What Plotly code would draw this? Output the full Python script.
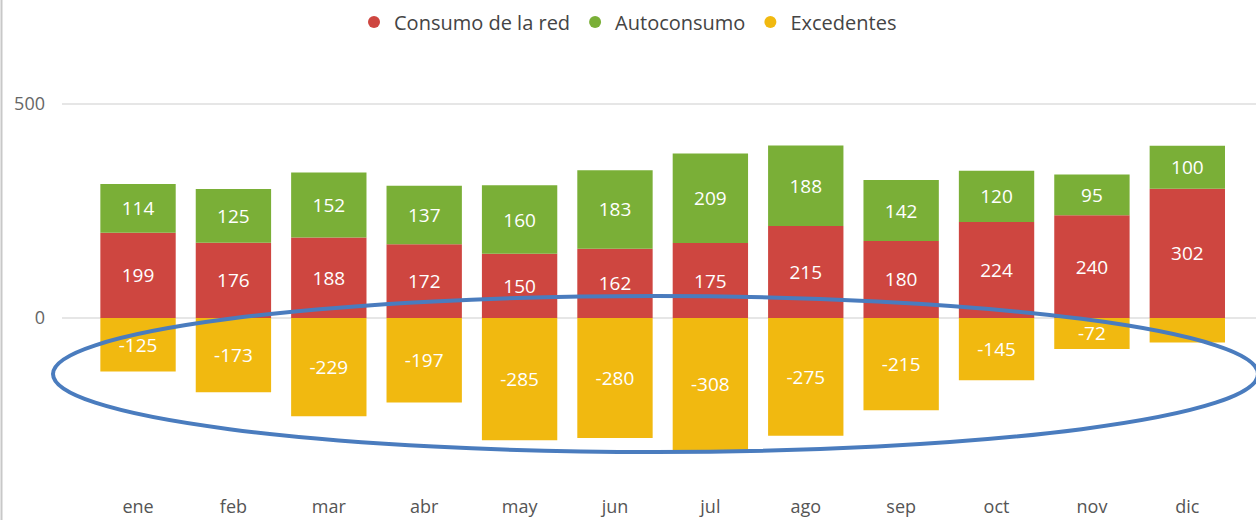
import plotly.graph_objects as go

months = ["ene", "feb", "mar", "abr", "may", "jun", "jul", "ago", "sep", "oct", "nov", "dic"]
consumo_red = [199, 176, 188, 172, 150, 162, 175, 215, 180, 224, 240, 302]
autoconsumo = [114, 125, 152, 137, 160, 183, 209, 188, 142, 120, 95, 100]
excedentes = [-125, -173, -229, -197, -285, -280, -308, -275, -215, -145, -72, -57]

series_names = ["Consumo de la red", "Autoconsumo", "Excedentes"]
colors = ["rgb(206,70,64)", "rgb(122,175,55)", "rgb(241,185,16)"]
series = [consumo_red, autoconsumo, excedentes]

W, H = 1256, 520
ml, mr, mt, mb = 62, 0, 61, 52
pw, ph = W - ml - mr, H - mt - mb

def px_x(p):
    return (p - ml) / pw

def px_y(p):
    return (H - mb - p) / ph

fig = go.Figure()
for name, vals, col in zip(series_names, series, colors):
    labels = [str(v) if abs(v) >= 60 else "" for v in vals]
    fig.add_trace(go.Bar(
        x=months, y=vals, name=name, marker_color=col, marker_line_width=0,
        text=labels, textposition="inside", insidetextanchor="middle", textangle=0,
        constraintext="none",
        textfont=dict(color="white", size=19, family="Open Sans, DejaVu Sans, sans-serif"),
        showlegend=False, hoverinfo="x+y+name",
    ))
    fig.add_trace(go.Scatter(
        x=[None], y=[None], mode="markers", name=name,
        marker=dict(color=col, size=17, symbol="circle"), showlegend=True,
    ))

fig.update_layout(
    width=W, height=H, barmode="relative", bargap=0.21,
    margin=dict(l=ml, r=mr, t=mt, b=mb, autoexpand=False),
    plot_bgcolor="white", paper_bgcolor="white",
    font=dict(family="Open Sans, DejaVu Sans, sans-serif", color="#666666", size=17),
    legend=dict(orientation="h", xref="container", x=0.5, xanchor="center",
                yref="container", y=0.995, yanchor="top",
                font=dict(size=20, color="#444444"), itemsizing="constant",
                itemwidth=30, traceorder="normal"),
    xaxis=dict(range=[-0.797, 11.72], showgrid=False, showline=False, ticks="",
               ticklabelstandoff=26, tickfont=dict(size=18, color="#555555")),
    yaxis=dict(range=[-350, 600], tickvals=[0, 500], ticktext=["0", "500"],
               showgrid=True, gridcolor="#e6e6e6", gridwidth=1.5,
               zeroline=True, zerolinecolor="#e6e6e6", zerolinewidth=1.5,
               showline=False, ticks="", ticklabelstandoff=16,
               tickfont=dict(size=18, color="#666666")),
    shapes=[
        dict(type="line", xref="paper", yref="paper",
             x0=px_x(1.5), x1=px_x(1.5), y0=px_y(0), y1=px_y(H),
             line=dict(color="#c8c8c8", width=2)),
        dict(type="circle", xref="paper", yref="paper",
             x0=px_x(53), x1=px_x(1258), y0=px_y(296), y1=px_y(452),
             line=dict(color="rgb(74,124,190)", width=4), layer="above"),
    ],
)

fig.write_html("out.html", config={"displayModeBar": False},
               post_script="document.body.style.margin='0';document.body.style.overflow='hidden';")
